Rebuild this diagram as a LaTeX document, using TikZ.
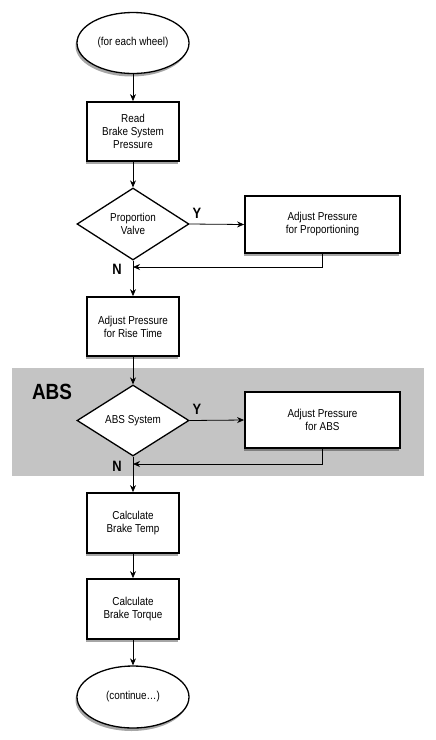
\documentclass[tikz,border=0pt]{standalone}
\usepackage{fontspec}
\setmainfont{Liberation Sans}
\newfontfamily\flowfont[FakeStretch=0.86]{Liberation Sans}
\usepackage{tikz}
\usetikzlibrary{arrows.meta,shapes.geometric,shadows,calc}
\definecolor{absgray}{HTML}{C4C4C4}
\tikzset{
  flowbox/.style={draw=black,line width=1.8pt,fill=white,rectangle,font=\flowfont\fontsize{11.5}{13}\selectfont,align=center,inner sep=2pt,
    drop shadow={shadow xshift=-1.5pt,shadow yshift=-3pt,fill=black,opacity=0.35}},
  flowdec/.style={draw=black,line width=1.3pt,fill=white,diamond,aspect=1.55,inner sep=0pt,font=\flowfont\fontsize{11.5}{13}\selectfont,align=center},
  flowterm/.style={draw=black,line width=1.3pt,fill=white,ellipse,inner sep=0pt,font=\flowfont\fontsize{11.5}{13}\selectfont,
    drop shadow={shadow xshift=-1.5pt,shadow yshift=-3pt,fill=black,opacity=0.35}},
  flowarr/.style={-{Stealth[length=7pt,width=6pt]},draw=black,line width=0.8pt},
  flowyn/.style={font=\flowfont\fontsize{15}{15}\selectfont\bfseries,inner sep=0pt}
}
\begin{document}
\begin{tikzpicture}[x=1pt,y=-1pt]
\useasboundingbox (0,0) rectangle (436,740);
\fill[absgray] (12,368) rectangle (424,476);
\node[font=\flowfont\fontsize{22}{22}\selectfont\bfseries,inner sep=0pt] (abslbl) at (52,392) {ABS};
\node[flowterm,minimum width=112pt,minimum height=61pt] (start) at (133,43) {(for each wheel)};
\node[flowbox,minimum width=92pt,minimum height=59pt] (read) at (133,131.5) {Read\\Brake System\\Pressure};
\node[flowdec,minimum width=112pt,minimum height=72pt] (prop) at (133,224) {Proportion\\Valve};
\node[flowbox,minimum width=155pt,minimum height=57pt] (adjprop) at (322.5,224.5) {Adjust Pressure\\for Proportioning};
\node[flowbox,minimum width=92pt,minimum height=59pt] (rise) at (133,326.5) {Adjust Pressure\\for Rise Time};
\node[flowdec,minimum width=112pt,minimum height=71pt] (abssys) at (133,420.5) {ABS System};
\node[flowbox,minimum width=155pt,minimum height=56pt] (adjabs) at (322.5,420) {Adjust Pressure\\for ABS};
\node[flowbox,minimum width=92pt,minimum height=60pt] (temp) at (133,523) {Calculate\\Brake Temp};
\node[flowbox,minimum width=92pt,minimum height=60pt] (torque) at (133,609) {Calculate\\Brake Torque};
\node[flowterm,minimum width=112pt,minimum height=62pt] (stop) at (133,697) {(continue\dots)};
% yes / no marks
\node[flowyn] (ypro) at (197,213) {Y};
\node[flowyn] (npro) at (117,269) {N};
\node[flowyn] (yabs) at (197,409) {Y};
\node[flowyn] (nabs) at (117,466) {N};
\coordinate (jpro) at (133,267);
\coordinate (jabs) at (133,464);
\foreach \a/\b in {start/read,read/prop,rise/abssys,temp/torque,torque/stop}{\draw[flowarr] (\a) -- (\b);}
\draw[flowarr] (prop.east) -- (adjprop.west);
\draw[flowarr] (abssys.east) -- (adjabs.west);
\draw[flowarr] (adjprop.south) |- (jpro);
\draw[flowarr] (adjabs.south) |- (jabs);
\draw[flowarr] (prop.south) -- (rise.north);
\draw[flowarr] (abssys.south) -- (temp.north);
\end{tikzpicture}
\end{document}
